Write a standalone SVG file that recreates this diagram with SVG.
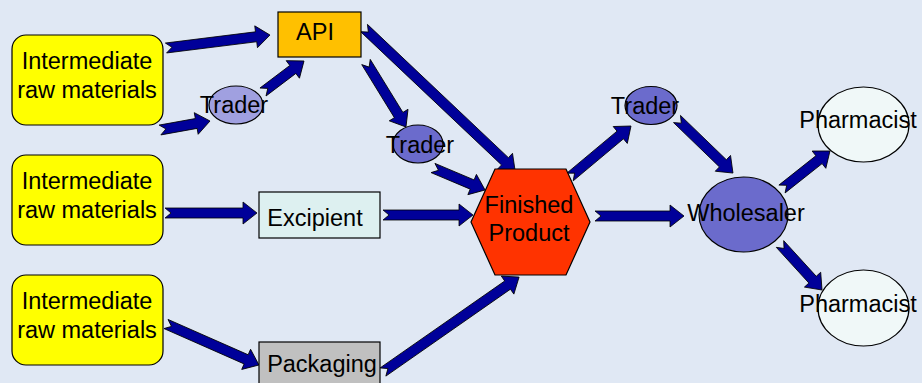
<svg xmlns="http://www.w3.org/2000/svg" width="922" height="383" viewBox="0 0 922 383">
<style>
text{font-family:"Liberation Sans",Arial,sans-serif;font-size:23.5px;fill:#000;text-anchor:middle}
.arr{fill:#000099;stroke:#000;stroke-width:0.8;stroke-linejoin:miter}
.ln{stroke:#000;stroke-width:1.2}
.raw{fill:#ffff00}
.trl{fill:#a0a0e0}
.trd{fill:#6b6bcc}
.ph{fill:#f0f8f8}
</style>
<rect width="922" height="383" fill="#e0e8f4"/>
<g id="connectors">
<path class="arr" transform="translate(166,48) rotate(-7.1)" d="M0,-5 L90.8,-5 L90.8,-11 L104.8,0 L90.8,11 L90.8,5 L0,5 L6,0 Z"/>
<path class="arr" transform="translate(160,130) rotate(-10.2)" d="M0,-5 L36.8,-5 L36.8,-11 L50.8,0 L36.8,11 L36.8,5 L0,5 L6,0 Z"/>
<path class="arr" transform="translate(263,92) rotate(-37.1)" d="M0,-5 L37.4,-5 L37.4,-11 L51.4,0 L37.4,11 L37.4,5 L0,5 L6,0 Z"/>
<path class="arr" transform="translate(364,28) rotate(43.4)" d="M0,-5 L194,-5 L194,-11 L208,0 L194,11 L194,5 L0,5 L6,0 Z"/>
<path class="arr" transform="translate(366,62) rotate(58.4)" d="M0,-5 L62.3,-5 L62.3,-11 L76.3,0 L62.3,11 L62.3,5 L0,5 L6,0 Z"/>
<path class="arr" transform="translate(433,168) rotate(22.9)" d="M0,-5 L42.5,-5 L42.5,-11 L56.5,0 L42.5,11 L42.5,5 L0,5 L6,0 Z"/>
<path class="arr" transform="translate(165,213)" d="M0,-5 L78,-5 L78,-11 L92,0 L78,11 L78,5 L0,5 L6,0 Z"/>
<path class="arr" transform="translate(383,215)" d="M0,-5 L76,-5 L76,-11 L90,0 L76,11 L76,5 L0,5 L6,0 Z"/>
<path class="arr" transform="translate(383,372) rotate(-34.9)" d="M0,-5 L151.9,-5 L151.9,-11 L165.9,0 L151.9,11 L151.9,5 L0,5 L6,0 Z"/>
<path class="arr" transform="translate(166,324) rotate(23.8)" d="M0,-5 L87.6,-5 L87.6,-11 L101.6,0 L87.6,11 L87.6,5 L0,5 L6,0 Z"/>
<path class="arr" transform="translate(570,177) rotate(-39.9)" d="M0,-5 L65.5,-5 L65.5,-11 L79.5,0 L65.5,11 L65.5,5 L0,5 L6,0 Z"/>
<path class="arr" transform="translate(677,119) rotate(44)" d="M0,-5 L63.8,-5 L63.8,-11 L77.8,0 L63.8,11 L63.8,5 L0,5 L6,0 Z"/>
<path class="arr" transform="translate(595,216)" d="M0,-5 L75,-5 L75,-11 L89,0 L75,11 L75,5 L0,5 L6,0 Z"/>
<path class="arr" transform="translate(782,189) rotate(-38.4)" d="M0,-5 L47.2,-5 L47.2,-11 L61.2,0 L47.2,11 L47.2,5 L0,5 L6,0 Z"/>
<path class="arr" transform="translate(780,244) rotate(47.6)" d="M0,-5 L48.3,-5 L48.3,-11 L62.3,0 L48.3,11 L48.3,5 L0,5 L6,0 Z"/>
</g>
<g id="raw1"><rect class="raw ln" x="12" y="35" width="151" height="90" rx="14"/><text x="87" y="69">Intermediate</text><text x="87" y="98">raw materials</text></g>
<g id="raw2"><rect class="raw ln" x="12" y="155" width="151" height="90" rx="14"/><text x="87" y="189">Intermediate</text><text x="87" y="218">raw materials</text></g>
<g id="raw3"><rect class="raw ln" x="12" y="275" width="151" height="90" rx="14"/><text x="87" y="309">Intermediate</text><text x="87" y="338">raw materials</text></g>
<g id="api"><rect class="ln" fill="#ffc000" x="278" y="12" width="83" height="45"/><text x="315" y="40">API</text></g>
<g id="trader1"><ellipse class="trl ln" cx="236" cy="105" rx="27" ry="19"/><text x="234" y="113">Trader</text></g>
<g id="trader2"><ellipse class="trd ln" cx="418" cy="144" rx="25" ry="19"/><text x="420" y="153">Trader</text></g>
<g id="excipient"><rect class="ln" fill="#ddf0f0" x="259" y="192" width="121" height="46"/><text x="315" y="226">Excipient</text></g>
<g id="packaging"><rect class="ln" fill="#c0c0c0" x="259" y="342" width="121" height="50"/><text x="322" y="372">Packaging</text></g>
<g id="finished"><polygon class="ln" fill="#ff3300" points="495,169 566,169 590,222 566,275 495,275 471,222"/><text x="529" y="213">Finished</text><text x="529" y="241">Product</text></g>
<g id="trader3"><ellipse class="trd ln" cx="651" cy="105.5" rx="26" ry="19"/><text x="645" y="114">Trader</text></g>
<g id="wholesaler"><ellipse class="trd ln" cx="743.5" cy="214.5" rx="44.5" ry="37.5"/><text x="746" y="221">Wholesaler</text></g>
<g id="pharmacist1"><ellipse class="ph ln" cx="863.5" cy="124.5" rx="45.5" ry="37.5"/><text x="858" y="128">Pharmacist</text></g>
<g id="pharmacist2"><ellipse class="ph ln" cx="863.5" cy="308" rx="45.5" ry="38"/><text x="858" y="312">Pharmacist</text></g>
</svg>
